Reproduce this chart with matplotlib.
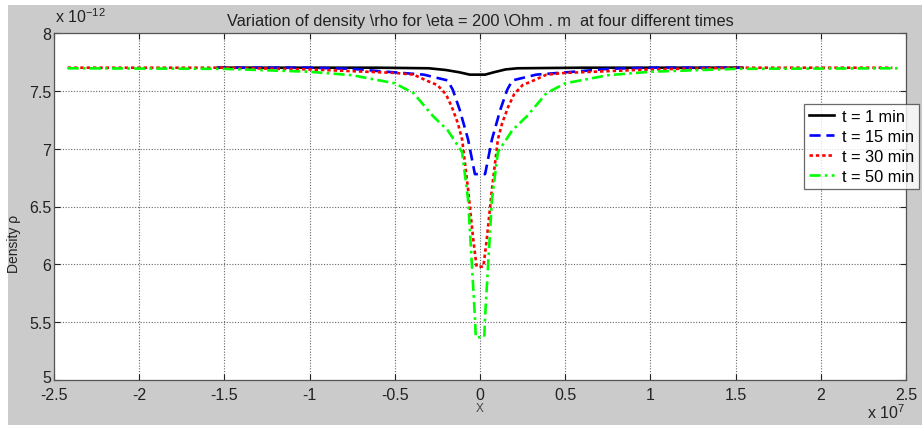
import numpy as np
import matplotlib.pyplot as plt
from matplotlib.patches import Rectangle
from matplotlib.transforms import ScaledTranslation

plt.rcParams['font.family'] = ['Liberation Sans', 'DejaVu Sans']

# x in units of 1e7, density in units of 1e-12
x_t1 = [-1.54, -0.6, -0.3, -0.2, -0.12, -0.06, 0.03, 0.08, 0.15, 0.22, 0.6, 1.54]
rho_t1 = [7.70, 7.70, 7.695, 7.68, 7.66, 7.64, 7.64, 7.66, 7.685, 7.695, 7.70, 7.70]

x_t15 = [-1.54, -1.0, -0.75, -0.59, -0.33, -0.19, -0.16, -0.12, -0.07, -0.03,
         0.03, 0.07, 0.12, 0.16, 0.19, 0.33, 0.59, 0.75, 1.0, 1.54]
rho_t15 = [7.70, 7.70, 7.69, 7.67, 7.64, 7.59, 7.51, 7.34, 7.08, 6.78,
           6.78, 7.08, 7.34, 7.51, 7.59, 7.64, 7.67, 7.69, 7.70, 7.70]

x_t30 = [-2.42, -1.5, -1.0, -0.75, -0.5, -0.39, -0.3, -0.25, -0.2, -0.165, -0.13,
         -0.105, -0.07, -0.04, -0.02, 0.02, 0.04, 0.07, 0.105, 0.13, 0.165, 0.2,
         0.25, 0.3, 0.39, 0.5, 0.75, 1.0, 1.5, 2.42]
rho_t30 = [7.70, 7.70, 7.685, 7.67, 7.655, 7.64, 7.58, 7.55, 7.47, 7.36, 7.22,
           7.08, 6.65, 6.22, 5.98, 5.98, 6.22, 6.65, 7.08, 7.22, 7.36, 7.47,
           7.55, 7.58, 7.64, 7.655, 7.67, 7.685, 7.70, 7.70]

x_t50 = [-2.42, -1.5, -1.0, -0.75, -0.5, -0.39, -0.275, -0.19, -0.105, -0.07,
         -0.045, -0.03, -0.025, 0.025, 0.03, 0.045, 0.07, 0.105, 0.19, 0.275,
         0.39, 0.5, 0.75, 1.0, 1.5, 2.45]
rho_t50 = [7.695, 7.69, 7.665, 7.635, 7.565, 7.48, 7.28, 7.16, 6.97, 6.56,
           5.93, 5.55, 5.37, 5.37, 5.55, 5.93, 6.56, 6.97, 7.16, 7.28,
           7.48, 7.565, 7.635, 7.665, 7.69, 7.695]

labels = ['t = 1 min', 't = 15 min', 't = 30 min', 't = 50 min']
xticks = [-2.5, -2, -1.5, -1, -0.5, 0, 0.5, 1, 1.5, 2, 2.5]
yticks = [5, 5.5, 6, 6.5, 7, 7.5, 8]

fig = plt.figure(figsize=(9.22, 4.27), dpi=100, facecolor='white')
# gray MATLAB-like figure background
fig.patches.append(Rectangle((8 / 922, 1 / 427), 914 / 922, 420 / 427,
                             transform=fig.transFigure, facecolor='#cbcbcb',
                             edgecolor='none', zorder=-10))
ax = fig.add_axes([54 / 922, 46 / 427, 852 / 922, 347 / 427])

lw = 1.9
ax.plot(x_t1, rho_t1, color='black', lw=lw, label=labels[0])
ax.plot(x_t15, rho_t15, color='#0000ff', lw=lw, dashes=(4.2, 2.2), label=labels[1])
ax.plot(x_t30, rho_t30, color='#ff0000', lw=lw, dashes=(1.3, 1.1), label=labels[2])
ax.plot(x_t50, rho_t50, color='#00ff00', lw=lw, dashes=(4.2, 1.6, 1.0, 1.6), label=labels[3])

ax.set_xlim(-2.5, 2.5)
ax.set_ylim(5, 8)
ax.set_xticks(xticks)
ax.set_yticks(yticks)
ax.set_xticklabels(['%g' % v for v in xticks], fontsize=11.5)
ax.set_yticklabels(['%g' % v for v in yticks], fontsize=11.5)
ax.tick_params(direction='in', length=4, width=0.8, top=True, right=True,
               colors='#222222')
ax.tick_params(axis='x', pad=5)
ax.tick_params(axis='y', pad=2)
# lift the bottom y label a little, as it sits in the corner
lab5 = ax.get_yticklabels()[0]
lab5.set_transform(lab5.get_transform() + ScaledTranslation(0, 0.04, fig.dpi_scale_trans))
for s in ax.spines.values():
    s.set_color('#555555')
    s.set_linewidth(0.9)
ax.grid(True, linestyle=(0, (1, 1.5)), color='#666666', lw=0.8)

ax.set_title(r'Variation of density \rho for \eta = 200 \Ohm . m  at four different times',
             fontsize=11.8, pad=6, color='#222222')
fig.text(55 / 922, 1 - 17 / 427, r'x 10$^{\mathregular{-12}}$', fontsize=11.5,
         va='center', ha='left', color='#222222')
fig.text(905 / 922, 1 - 413 / 427, r'x 10$^{\mathregular{7}}$', fontsize=11.5,
         va='center', ha='right', color='#222222')
fig.text(480 / 922, 1 - 409 / 427, 'X', fontsize=8.5, va='center', ha='center',
         color='#444444')
fig.text(14 / 922, 1 - 244 / 427, 'Density \u03c1', fontsize=10, rotation=90,
         va='center', ha='center', color='#222222')

leg = ax.legend(loc='upper right', bbox_to_anchor=(919 / 922, 1 - 105 / 427),
                bbox_transform=fig.transFigure, fontsize=11.8, frameon=True,
                fancybox=False, handlelength=1.55, handletextpad=0.45,
                borderpad=0.3, labelspacing=0.3, borderaxespad=0)
leg.get_frame().set_edgecolor('#444444')
leg.get_frame().set_linewidth(0.9)

fig.savefig('out.png', dpi=100, facecolor=fig.get_facecolor())
